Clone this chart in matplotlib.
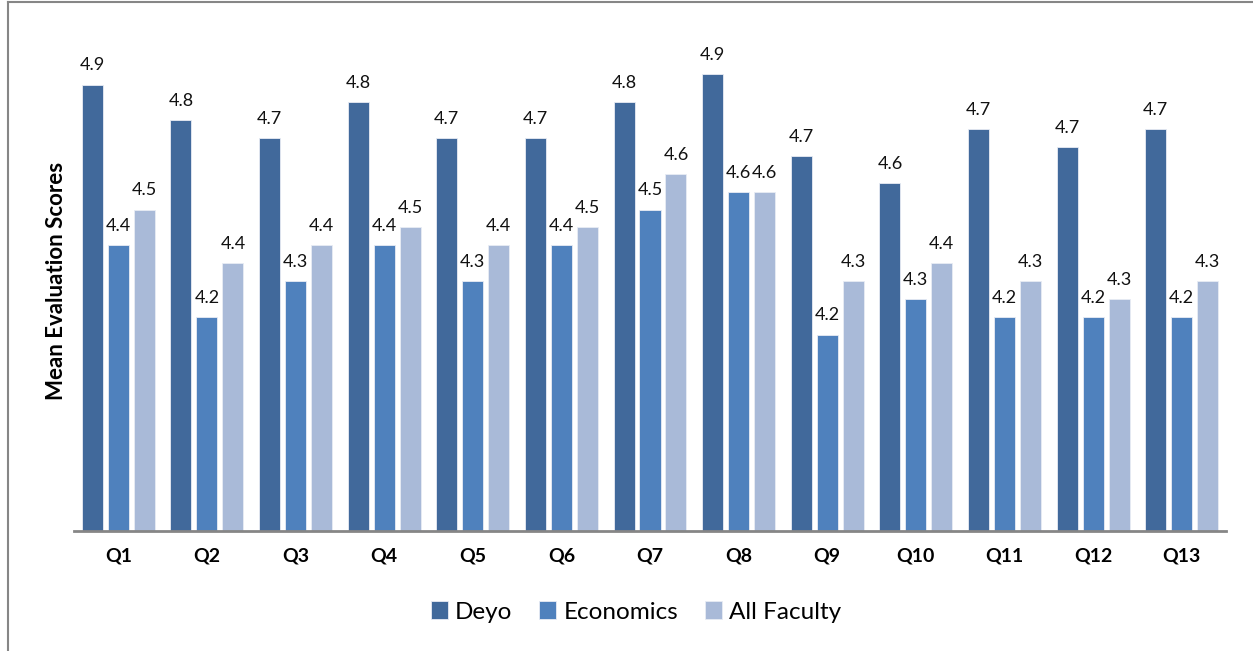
import numpy as np
import matplotlib
matplotlib.use("Agg")
import matplotlib.pyplot as plt
from matplotlib.lines import Line2D

plt.rcParams['font.family'] = ['Lato', 'DejaVu Sans']

questions = ["Q1", "Q2", "Q3", "Q4", "Q5", "Q6", "Q7", "Q8", "Q9", "Q10", "Q11", "Q12", "Q13"]
deyo = [4.85, 4.75, 4.70, 4.80, 4.70, 4.70, 4.80, 4.88, 4.65, 4.575, 4.725, 4.675, 4.725]
economics = [4.40, 4.20, 4.30, 4.40, 4.30, 4.40, 4.50, 4.55, 4.15, 4.25, 4.20, 4.20, 4.20]
all_faculty = [4.50, 4.35, 4.40, 4.45, 4.40, 4.45, 4.60, 4.55, 4.30, 4.35, 4.30, 4.25, 4.30]

deyo_lbl = ["4.9", "4.8", "4.7", "4.8", "4.7", "4.7", "4.8", "4.9", "4.7", "4.6", "4.7", "4.7", "4.7"]
econ_lbl = ["4.4", "4.2", "4.3", "4.4", "4.3", "4.4", "4.5", "4.6", "4.2", "4.3", "4.2", "4.2", "4.2"]
all_lbl = ["4.5", "4.4", "4.4", "4.5", "4.4", "4.5", "4.6", "4.6", "4.3", "4.4", "4.3", "4.3", "4.3"]

colors = ["#41699b", "#4f81bd", "#a9bad8"]

fig = plt.figure(figsize=(12.53, 6.51), dpi=100)
ax = fig.add_axes([74 / 1253, (651 - 531) / 651, (1226 - 74) / 1253, 500 / 651])

x = np.arange(len(questions))
w = 0.237
step = 0.293
series = [("Deyo", deyo, deyo_lbl), ("Economics", economics, econ_lbl), ("All Faculty", all_faculty, all_lbl)]
for i, (name, vals, lbls) in enumerate(series):
    pos = x + (i - 1) * step
    bars = ax.bar(pos, vals, width=w, bottom=0, color=colors[i], edgecolor="#e8ecf4",
                  linewidth=0.6, label=name, zorder=2)
    for b, t in zip(bars, lbls):
        ax.annotate(t, (b.get_x() + b.get_width() / 2, b.get_height()),
                    xytext=(0, 8), textcoords="offset points",
                    ha="center", va="bottom", fontsize=13, color="#111111")

ax.set_ylim(3.6, 5.0)
ax.set_xlim(-0.5, len(questions) - 0.5)
ax.set_xticks(x)
ax.set_xticklabels(questions, fontsize=14, fontweight="bold")
ax.tick_params(axis="x", length=0, pad=12)
ax.set_yticks([])
for s in ["top", "right", "left"]:
    ax.spines[s].set_visible(False)
ax.spines["bottom"].set_color("#868686")
ax.spines["bottom"].set_linewidth(2)
ax.set_ylabel("Mean Evaluation Scores", fontsize=16, fontweight="bold", labelpad=5)

ax.legend(loc="center", bbox_to_anchor=(636 / 1253, 1 - 612 / 651),
          bbox_transform=fig.transFigure, ncol=3, frameon=False, fontsize=17.5,
          handlelength=0.7, handleheight=0.7, handletextpad=0.3, columnspacing=1.1)

# outer chart frame (partly cropped)
fig.add_artist(Line2D([8 / 1253, 8 / 1253], [0, 1 - 2 / 651], transform=fig.transFigure,
                      color="#868686", linewidth=1.5))
fig.add_artist(Line2D([8 / 1253, 1], [1 - 2 / 651, 1 - 2 / 651], transform=fig.transFigure,
                      color="#868686", linewidth=1.5))

plt.savefig("out.png", dpi=100)
